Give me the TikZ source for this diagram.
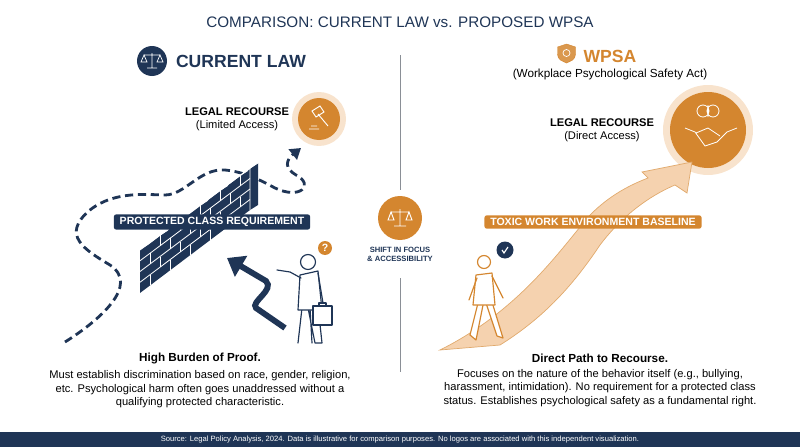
\documentclass[tikz,border=0pt]{standalone}
\usepackage{fontspec}
\setmainfont{Liberation Sans}
\usetikzlibrary{arrows.meta, positioning, calc}
\definecolor{navy}{HTML}{1F3556}
\definecolor{amber}{HTML}{D4862F}
\definecolor{peach}{HTML}{F2C79B}
\definecolor{divgray}{HTML}{8A8F96}
\tikzset{
  heading/.style={font=\bfseries\fontsize{15}{17}\selectfont},
  caption/.style={font=\fontsize{9.5}{11.5}\selectfont, align=center, text=black},
  banner/.style={rounded corners=2pt, text=white, font=\bfseries\fontsize{9}{10}\selectfont,
    inner xsep=5pt, inner ysep=2.5pt},
  icon/.style={white, line width=0.6pt},
  person/.style={draw=navy, line width=1pt, line cap=round, line join=round, fill=white},
  mortar/.style={white, line width=0.7pt}
}
\begin{document}
\begin{tikzpicture}[x=0.03cm, y=-0.03cm]
\useasboundingbox (0,0) rectangle (800,447);

% Title and divider
\node[text=navy, font=\fontsize{13}{15}\selectfont] (title) at (400,22) {COMPARISON: CURRENT LAW vs. PROPOSED WPSA};
\coordinate (divtop) at (400,55);
\coordinate (divmid) at (400,190);
\coordinate (divlow) at (400,278);
\coordinate (divbot) at (400,372);
\draw[divgray, line width=0.8pt] (divtop) -- (divmid);
\draw[divgray, line width=0.8pt] (divlow) -- (divbot);

% Left header
\node[circle, fill=navy, minimum size=30*0.03cm] (lawicon) at (152,61) {};
\draw[icon] (lawicon.center) ++(0,-8) -- ++(0,15) ++(-5,0) -- ++(10,0)
  (lawicon.center) ++(-8,-6) -- ++(16,0)
  (lawicon.center) ++(-8,-6) -- ++(-3,7) -- ++(6,0) -- cycle
  (lawicon.center) ++(8,-6) -- ++(-3,7) -- ++(6,0) -- cycle;
\node[heading, text=navy, right=4pt of lawicon] (lawhead) {CURRENT LAW};

% Left recourse
\node[circle, fill=peach!50, minimum size=54*0.03cm] (gavelglow) at (319,119) {};
\node[circle, fill=amber, minimum size=42*0.03cm] (gavel) at (319,119) {};
\draw[icon, line width=0.8pt] (gavel.center) ++(-7,-8) -- ++(8,-5) -- ++(4,6) -- ++(-8,5) -- cycle
  (gavel.center) ++(-1,-5) -- ++(10,12)
  (gavel.center) ++(-10,10) -- ++(10,0) (gavel.center) ++(-8,7) -- ++(6,0);
\node[font=\bfseries\fontsize{9.5}{11}\selectfont, align=center, left=4pt of gavel] (limited)
  {LEGAL RECOURSE\\ \mdseries(Limited Access)};

% Dashed path around wall
\coordinate (pathstart) at (65,342);
\coordinate (pathtip) at (301,148);
\draw[navy, line width=2.4pt, dash pattern=on 7pt off 4pt, -{Triangle[length=9pt,width=11pt]}]
  (pathstart) .. controls (100,320) and (140,285) .. (110,265)
  .. controls (85,250) and (60,235) .. (90,210)
  .. controls (115,190) and (150,195) .. (165,195)
  .. controls (185,195) and (200,168) .. (225,170)
  .. controls (245,172) and (260,180) .. (275,188)
  .. controls (300,200) and (315,185) .. (296,175)
  .. controls (284,168) and (286,160) .. (pathtip);

% Wall
\fill[navy] (140,293) -- (140,250) -- (148,245) -- (258,163) -- (258,205) -- (250,210) -- cycle;
\draw[mortar] (140,250) -- (250,168) -- (258,163) (250,168) -- (250,210);
\foreach \r in {1,2,3}
  \draw[mortar] ($(140,250)!\r/4!(140,293)$) -- ($(250,168)!\r/4!(250,210)$);
\foreach \r in {0,1,2,3}
  \foreach \c in {1,...,5} {
    \pgfmathsetmacro\t{(\c - 0.5*mod(\r,2))/5.5}
    \draw[mortar] ($($(140,250)!\r/4!(140,293)$)!\t!($(250,168)!\r/4!(250,210)$)$) -- ++(0,10.5);
  }
\foreach \c in {1,...,5}
  \draw[mortar] ($(140,250)!\c/5.5!(250,168)$) -- ++(8,-5);
\node[banner, fill=navy] (protected) at (212,222) {PROTECTED CLASS REQUIREMENT};

% Blocked arrow
\coordinate (blockstart) at (285,328);
\coordinate (blocktip) at (227,258);
\draw[navy, line width=5pt, -{Triangle[length=14pt,width=20pt]}]
  (blockstart) -- (256,308) .. controls (250,302) and (275,290) .. (266,281)
  -- (blocktip);

% Man with briefcase
\node[circle, fill=amber, text=white, font=\bfseries\small, inner sep=1pt, minimum size=14*0.03cm] (question) at (325,248) {?};
\draw[person] (298,343) -- (302,308) -- (310,308) -- (312,343)
  (308,308) -- (315,343) -- (322,343) -- (318,306);
\draw[person] (300,275) -- (318,271) -- (322,310) -- (298,310) -- cycle;
\draw[person] (301,278) -- (290,272) -- (277,270)
  (318,273) -- (323,303);
\draw[person] (308,262) circle (7.5);
\draw[person] (313,306) rectangle (332,325) (319,306) -- (319,303) -- (326,303) -- (326,306);

% Center shift
\node[circle, fill=amber, minimum size=44*0.03cm] (shift) at (400,218) {};
\draw[icon, line width=0.8pt] (shift.center) ++(0,-9) -- ++(0,17) ++(-6,0) -- ++(12,0)
  (shift.center) ++(-9,-6) -- ++(18,0)
  (shift.center) ++(-9,-6) -- ++(-3,8) -- ++(6,0) -- cycle
  (shift.center) ++(9,-6) -- ++(-3,8) -- ++(6,0) -- cycle;
\node[font=\bfseries\fontsize{6.5}{8}\selectfont, text=navy, align=center, below=2pt of shift] (shiftlabel)
  {SHIFT IN FOCUS\\\& ACCESSIBILITY};

% Right header
\node[heading, text=amber] (wpsahead) at (610,56) {WPSA};
\draw[amber, fill=amber!85] (wpsahead.west) ++(-22,-9) -- ++(9,-3) -- ++(9,3) -- ++(0,7)
  .. controls ++(0,6) and ++(4,-2) .. ++(-9,9) .. controls ++(-4,-2) and ++(0,6) .. ++(-9,-9) -- cycle;
\draw[white, line width=0.6pt] (wpsahead.west) ++(-13,-3) circle (3.5);
\node[font=\fontsize{10}{12}\selectfont, text=black, below=-1pt of wpsahead] (wpsafull) {(Workplace Psychological Safety Act)};

% Right recourse
\node[circle, fill=peach!50, minimum size=90*0.03cm] (handglow) at (708,130) {};
\node[circle, fill=amber, minimum size=76*0.03cm] (hands) at (708,130) {};
\draw[icon, line width=0.7pt] (hands.center) ++(-5,-19) circle (6) ++(10,0) circle (6)
  (hands.center) ++(0,-25) -- ++(0,12)
  (hands.center) ++(-23,-2) -- ++(10,4) -- ++(10,14) -- ++(12,-4) -- ++(10,-10) -- ++(10,-4)
  (hands.center) ++(-12,3) -- ++(12,-5) -- ++(12,8);
\node[font=\bfseries\fontsize{9.5}{11}\selectfont, align=center, left=4pt of handglow] (direct)
  {LEGAL RECOURSE\\ \mdseries(Direct Access)};

% Rising arrow
\coordinate (risestart) at (465,345);
\coordinate (risetip) at (692,162);
\fill[peach!80, draw=amber!70, line width=0.6pt] (440,350) .. controls (520,310) and (560,250) .. (590,215)
  .. controls (610,195) and (630,185) .. (648,178)
  -- (642,172) -- (risetip) -- (687,193) -- (675,185)
  .. controls (640,200) and (615,225) .. (600,245)
  .. controls (570,290) and (540,320) .. (500,345) -- cycle;
\node[banner, fill=amber] (toxic) at (593,222) {TOXIC WORK ENVIRONMENT BASELINE};

% Walking man
\node[circle, fill=navy, minimum size=17*0.03cm] (check) at (505,250) {};
\draw[white, line width=1pt] (check.center) ++(-3,0) -- ++(2,3) -- ++(4,-6);
\tikzset{person/.append style={draw=amber}}
\draw[person] (478,303) -- (470,335) -- (476,340) -- (483,305)
  (486,303) -- (497,336) -- (503,338) -- (492,302);
\draw[person] (476,275) -- (492,273) -- (495,305) -- (473,305) -- cycle;
\draw[person] (477,278) -- (469,300) (492,276) -- (503,298);
\draw[person] (484,262) circle (6.5);

% Bottom captions
\node[caption, font=\bfseries\fontsize{10}{12}\selectfont] (leftbold) at (200,358) {High Burden of Proof.};
\node[caption, below=-1pt of leftbold] (lefttext)
  {Must establish discrimination based on race, gender, religion,\\etc. Psychological harm often goes unaddressed without a\\qualifying protected characteristic.};
\node[caption, font=\bfseries\fontsize{10}{12}\selectfont] (rightbold) at (600,358) {Direct Path to Recourse.};
\node[caption, below=-1pt of rightbold] (righttext)
  {Focuses on the nature of the behavior itself (e.g., bullying,\\harassment, intimidation). No requirement for a protected class\\status. Establishes psychological safety as a fundamental right.};

% Footer
\fill[navy] (0,432) rectangle (800,447);
\node[text=white, font=\fontsize{6.5}{8}\selectfont] (source) at (400,439.5)
  {Source: Legal Policy Analysis, 2024. Data is illustrative for comparison purposes. No logos are associated with this independent visualization.};
\end{tikzpicture}
\end{document}
